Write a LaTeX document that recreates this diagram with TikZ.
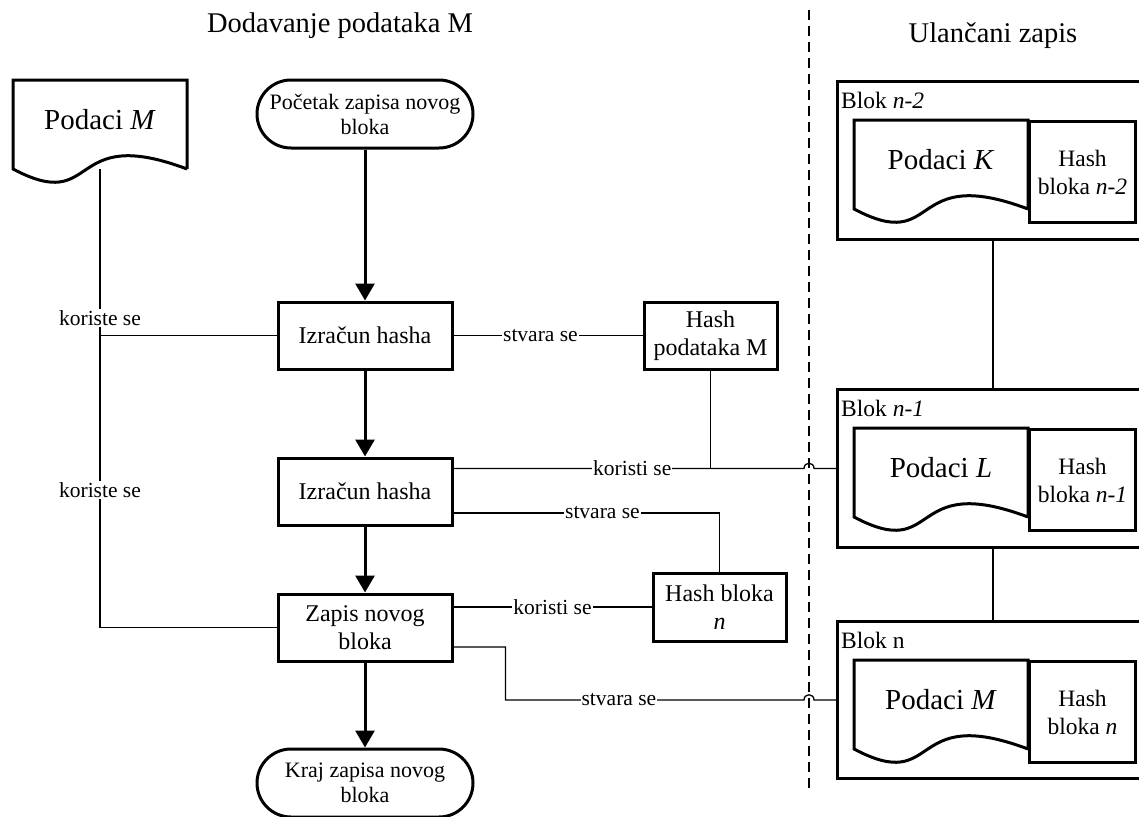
\documentclass[tikz,border=0pt]{standalone}
\usepackage{fontspec}
\setmainfont{Liberation Serif}
\usetikzlibrary{arrows.meta,calc}
\newcommand\fsz[2]{\fontsize{#1}{#2}\selectfont}
\newcommand\docshape[1]{\draw[shp] ($(#1)+(87,49)$) -- ($(#1)+(87,-40)$) -- ($(#1)+(-87,-40)$) -- ($(#1)+(-87,49)$) .. controls ($(#1)+(0,95)$) and ($(#1)+(-35,3)$) .. ($(#1)+(87,49)$);}
\begin{document}
\begin{tikzpicture}[x=1pt,y=-1pt,
  shp/.style={line width=3pt},
  conn/.style={line width=1.3pt},
  flow/.style={line width=3pt,-{Triangle[width=19pt,length=17pt]}},
  procbox/.style={draw,line width=3pt,minimum width=174pt,minimum height=67pt,align=center,inner sep=2pt,font=\fsz{24}{28}},
  term/.style={draw,line width=3pt,rounded corners=34pt,minimum width=216pt,minimum height=68pt,align=center,inner sep=2pt,font=\fsz{22}{25}},
  lbl/.style={fill=white,inner sep=1pt,font=\fsz{21.5}{24}},
  blkbox/.style={draw,line width=3pt,anchor=north west,minimum width=320pt,minimum height=158pt,inner sep=0pt},
  hbox/.style={draw,line width=3pt,anchor=north west,minimum width=106pt,minimum height=101pt,align=center,inner sep=1pt,font=\fsz{23.5}{28}},
  doctext/.style={font=\fsz{29}{32}},
  blklbl/.style={anchor=west,inner sep=0pt,font=\fsz{23.5}{26}},
  title/.style={font=\fsz{28.5}{32}}]
\useasboundingbox (0,0) rectangle (1139,816);
\clip (0,0) rectangle (1139,816);

% titles
\node[title] (t1) at (340,26) {Dodavanje podataka M};
\node[title] (t2) at (993,36) {Ulančani zapis};

% dashed separator
\coordinate (dtop) at (809,10);
\coordinate (dbot) at (809,792);
\draw[conn,dash pattern=on 10pt off 6pt] (dtop) -- (dbot);

% left column
\node[doctext] (podM) at (100,120) {Podaci \textit{M}};
\docshape{podM}
\coordinate (podMb) at ($(podM)+(0,49)$);

\node[term] (start) at (365,114) {Početak zapisa novog\\bloka};
\node[procbox] (izr1) at (365,335.5) {Izračun hasha};
\node[procbox] (izr2) at (365,491.5) {Izračun hasha};
\node[procbox] (zapis) at (365,627.5) {Zapis novog\\bloka};
\node[term] (kraj) at (365,783) {Kraj zapisa novog\\bloka};

\node[procbox,minimum width=133pt] (hashM) at (710.5,335.5) {Hash\\podataka M};
\node[procbox,minimum width=133pt,minimum height=68pt] (hashN) at (719.5,607) {Hash bloka\\\textit{n}};

% blocks
\node[blkbox] (blk2) at (836,80) {};
\node[blklbl] (blk2l) at (841,100) {Blok \textit{n-2}};
\node[doctext] (podK) at (941,160) {Podaci \textit{K}};
\docshape{podK}
\node[hbox] (hK) at (1028,120) {Hash\\bloka \textit{n-2}};

\node[blkbox] (blk1) at (836,388) {};
\node[blklbl] (blk1l) at (841,408) {Blok \textit{n-1}};
\node[doctext] (podL) at (941,468) {Podaci \textit{L}};
\docshape{podL}
\node[hbox] (hL) at (1028,428) {Hash\\bloka \textit{n-1}};

\node[blkbox,minimum height=157pt] (blkN) at (836,620) {};
\node[blklbl] (blkNl) at (841,640) {Blok n};
\node[doctext] (podN) at (941,700) {Podaci \textit{M}};
\docshape{podN}
\node[hbox] (hN) at (1028,660) {Hash\\bloka \textit{n}};

% chain links
\draw[conn] ($(blk2.south west)+(157,0)$) -- ($(blk1.north west)+(157,0)$);
\draw[conn] ($(blk1.south west)+(157,0)$) -- ($(blkN.north west)+(157,0)$);

% flow arrows
\draw[flow] (start.south) -- (izr1.north);
\draw[flow] (izr1.south) -- (izr2.north);
\draw[flow] (izr2.south) -- (zapis.north);
\draw[flow] (zapis.south) -- (kraj.north);

% data connectors
\draw[conn] (podMb) -- (podMb |- zapis.west) node[lbl,pos=0.325]{koriste se} node[lbl,pos=0.70]{koriste se} -- (zapis.west);
\draw[conn] (podMb |- izr1.west) -- (izr1.west);
\draw[conn] (izr1.east) -- node[lbl,pos=0.46]{stvara se} (hashM.west);

\coordinate (j1) at (dtop |- blk1.west);
\draw[conn] (hashM.south) -- (hashM.south |- blk1.west);
\draw[conn] (izr2.east |- blk1.west) -- node[lbl,pos=0.51]{koristi se} ($(j1)+(-5,0)$) .. controls ($(j1)+(-5,-7)$) and ($(j1)+(5,-7)$) .. ($(j1)+(5,0)$) -- (blk1.west);

\draw[conn] ($(izr2.east)+(0,21.5)$) -| node[lbl,pos=0.28]{stvara se} (hashN.north);
\draw[conn] (zapis.east |- hashN.west) -- node[lbl]{koristi se} (hashN.west);

\coordinate (j2) at (dtop |- blkN.west);
\draw[conn] ($(zapis.east)+(0,19.5)$) -- ++(52,0) |- node[lbl,pos=0.69]{stvara se} ($(j2)+(-5,0)$) .. controls ($(j2)+(-5,-7)$) and ($(j2)+(5,-7)$) .. ($(j2)+(5,0)$) -- (blkN.west);
\end{tikzpicture}
\end{document}
